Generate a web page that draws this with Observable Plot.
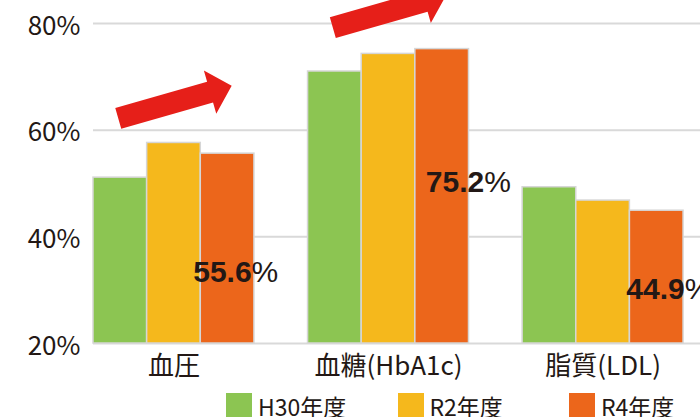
<!DOCTYPE html>
<html>
<head>
<meta charset="utf-8">
<script src="https://cdn.jsdelivr.net/npm/d3@7"></script>
<script src="https://cdn.jsdelivr.net/npm/@observablehq/plot@0.6"></script>
<style>
  body { margin: 0; background: white; }
  #chart { width: 700px; }
  .legend { display: flex; padding-left: 226px; margin-top: 8px; font-family: 'Noto Sans CJK JP'; color: #231815; }
  .legend .item { display: flex; align-items: center; width: 171.5px; flex: none; }
  .legend .sw { width: 26px; height: 26px; flex: none; }
  .legend .lb { margin-left: 6px; font-size: 23px; line-height: 26px; white-space: nowrap; }
</style>
</head>
<body>
<div id="chart"></div>
<script>
// ---- data ----
const categories = ["血圧", "血糖(HbA1c)", "脂質(LDL)"];
const series = ["H30年度", "R2年度", "R4年度"];
const h30 = [51.1, 71.0, 49.3];
const r2 = [57.6, 74.3, 46.8];
const r4 = [55.6, 75.2, 44.9];
const colors = ["#8cc552", "#f5b81c", "#ec661b"];
const yTicks = [20, 40, 60, 80];
const yDomain = [20, 80];

// annotation layout (labels on the R4 bars, and the trend arrows)
const labelY = [33.3, 50.15, 30.2];
const labelDx = [24, 42, 28];
const arrowCats = ["血圧", "血糖(HbA1c)"];
const arrowY = [65.26, 82.27];

// ---- build table ----
const valuesBySeries = [h30, r2, r4];
const key = (c, s) => c + "|" + s;
const rows = [];
categories.forEach((c, i) => series.forEach((s, j) => rows.push({cat: c, ser: s, key: key(c, s), value: valuesBySeries[j][i]})));
const xDomain = [];
categories.forEach((c, i) => {
  series.forEach(s => xDomain.push(key(c, s)));
  if (i < categories.length - 1) xDomain.push("gap" + i);
});
const midKeys = categories.map(c => key(c, series[1]));

const labels = categories.map((c, i) => ({key: key(c, series[2]), y: labelY[i], num: r4[i].toFixed(1), dx: labelDx[i]}));
const arrows = arrowCats.map((c, i) => ({key: key(c, series[1]), y: arrowY[i]}));

// block arrow symbol (pointing along -16deg)
const ang = -16 * Math.PI / 180;
const shape = [[-1, -0.183], [0.619, -0.183], [0.619, -0.381], [1, 0], [0.619, 0.381], [0.619, 0.183], [-1, 0.183]];
const arrowSymbol = {
  draw(context, size) {
    const L = Math.sqrt(size / Math.PI);
    shape.forEach(([x, y], k) => {
      const X = (x * Math.cos(ang) - y * Math.sin(ang)) * L;
      const Y = (x * Math.sin(ang) + y * Math.cos(ang)) * L;
      if (k === 0) context.moveTo(X, Y); else context.lineTo(X, Y);
    });
    context.closePath();
  }
};

const labelMarks = labels.flatMap(d => [
  Plot.text([d], {x: "key", y: "y", text: "num", textAnchor: "end", dx: d.dx, fontFamily: "Liberation Sans", fontWeight: "bold", fontSize: 30, fill: "#231815"}),
  Plot.text([d], {x: "key", y: "y", text: () => "%", textAnchor: "start", dx: d.dx, fontFamily: "Liberation Sans", fontSize: 30, fill: "#231815"})
]);

const chart = Plot.plot({
  width: 700,
  height: 385,
  marginLeft: 93,
  marginRight: 0,
  marginTop: 23,
  marginBottom: 42,
  style: {fontFamily: "'Noto Sans CJK JP'", fontSize: "26px", color: "#231815", background: "white", overflow: "visible"},
  x: {type: "band", domain: xDomain, paddingInner: 0, paddingOuter: 0.158, align: 0, round: false, axis: null},
  y: {domain: yDomain, axis: null},
  color: {domain: series, range: colors},
  marks: [
    Plot.ruleY(yTicks, {stroke: "#d9d9d9", strokeWidth: 2}),
    Plot.barY(rows, {x: "key", y1: () => yDomain[0], y2: "value", fill: "ser", stroke: "#d6d6d6", strokeWidth: 1.5, inset: 0}),
    Plot.axisY({ticks: yTicks, tickSize: 0, tickPadding: 13, tickFormat: d => d + "%", fontSize: 26, dy: 3, fill: "#231815", label: null}),
    Plot.axisX({ticks: midKeys, tickSize: 0, tickPadding: 13, tickFormat: d => d.split("|")[0], fontSize: 26, fill: "#231815", label: null}),
    ...labelMarks,
    Plot.dot(arrows, {x: "key", y: "y", r: 59, symbol: arrowSymbol, fill: "#e61f19", stroke: "none", dx: 1})
  ]
});
document.getElementById("chart").appendChild(chart);

const legend = d3.select("#chart").append("div").attr("class", "legend");
const items = legend.selectAll(".item").data(series).join("div").attr("class", "item");
items.append("div").attr("class", "sw").style("background", (d, i) => colors[i]);
items.append("span").attr("class", "lb").text(d => d);
</script>
</body>
</html>
